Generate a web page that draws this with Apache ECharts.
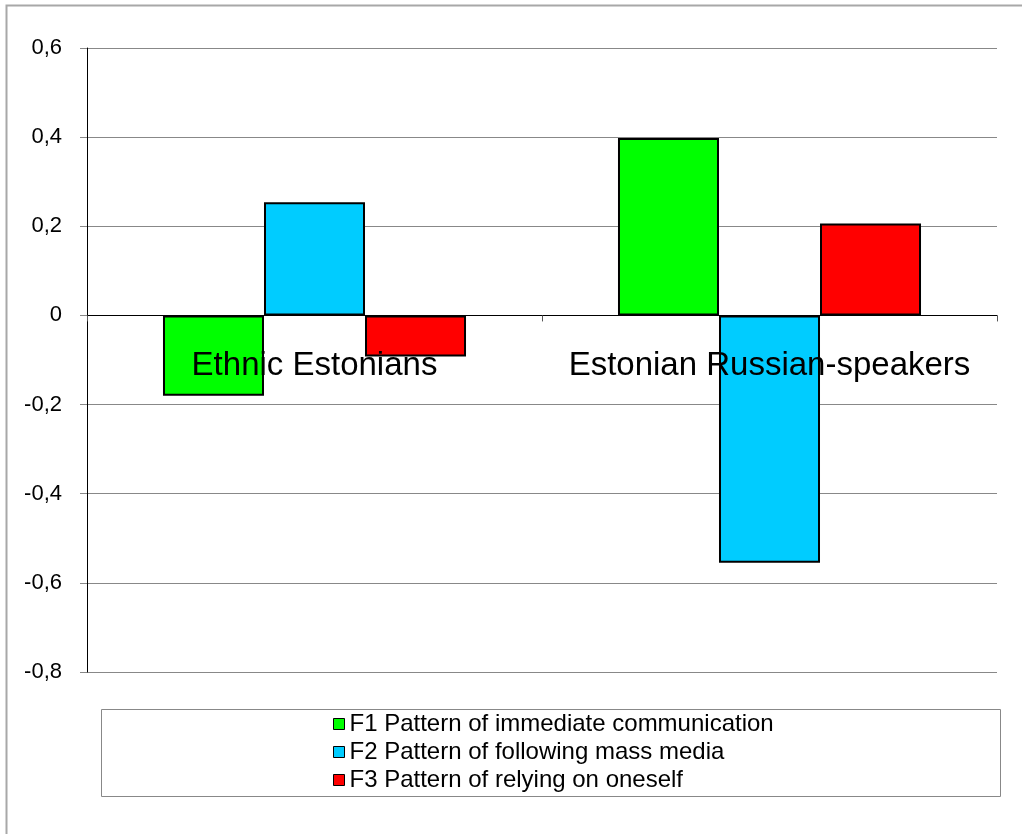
<!DOCTYPE html>
<html>
<head>
<meta charset="utf-8">
<script src="https://cdn.jsdelivr.net/npm/echarts@6/dist/echarts.min.js"></script>
<style>
html,body{margin:0;padding:0;background:#fff;}
#chart{width:1022px;height:834px;}
</style>
</head>
<body>
<div id="chart"></div>
<script>
const categories = ['Ethnic Estonians', 'Estonian Russian-speakers'];
const seriesNames = ['F1 Pattern of immediate communication', 'F2 Pattern of following mass media', 'F3 Pattern of relying on oneself'];
const f1Values = [-0.180, 0.398];
const f2Values = [0.254, -0.555];
const f3Values = [-0.092, 0.206];
const seriesColors = ['#00FF00', '#00CCFF', '#FF0000'];
const yTicks = { min: -0.8, max: 0.6, interval: 0.2 };

const FONT = '"Liberation Sans", Arial, sans-serif';
const chart = echarts.init(document.getElementById('chart'), null, { renderer: 'canvas' });

const GRID_TOP = 48, GRID_BOTTOM = 162, H = 834;
const plotH = H - GRID_TOP - GRID_BOTTOM;
const zeroFromBottom = plotH * (0 - yTicks.min) / (yTicks.max - yTicks.min);

const dataSets = [f1Values, f2Values, f3Values];
const series = dataSets.map((vals, i) => ({
  name: seriesNames[i],
  type: 'bar',
  data: vals,
  xAxisIndex: 0,
  barGap: 0,
  barCategoryGap: '33.4%',
  itemStyle: { color: seriesColors[i], borderColor: '#000', borderWidth: 2 },
  emphasis: { disabled: true },
  animation: false
}));

chart.setOption({
  animation: false,
  backgroundColor: '#fff',
  grid: { left: 87, right: 25, top: GRID_TOP, bottom: GRID_BOTTOM, containLabel: false },
  xAxis: [{
    type: 'category',
    data: categories,
    axisLine: { onZero: true, lineStyle: { color: '#000', width: 1 } },
    axisTick: { show: true, length: 6, lineStyle: { color: '#555' } },
    axisLabel: { show: false },
    splitLine: { show: false }
  }, {
    type: 'category',
    data: categories,
    position: 'bottom',
    offset: -zeroFromBottom,
    z: 10,
    axisLine: { show: false, onZero: false },
    axisTick: { show: false },
    axisLabel: {
      show: true, interval: 0,
      fontFamily: FONT, fontSize: 33, color: '#000', margin: 34, lineHeight: 32
    },
    splitLine: { show: false }
  }],
  yAxis: {
    type: 'value',
    min: yTicks.min, max: yTicks.max, interval: yTicks.interval,
    axisLine: { show: true, lineStyle: { color: '#000', width: 1 } },
    axisTick: { show: true, length: 7, lineStyle: { color: '#888' } },
    axisLabel: {
      fontFamily: FONT, fontSize: 22, color: '#000', margin: 25,
      formatter: v => {
        const r = Math.round(v * 10) / 10;
        return r === 0 ? '0' : r.toFixed(1).replace('.', ',');
      }
    },
    splitLine: { show: true, lineStyle: { color: '#888', width: 1 } }
  },
  legend: {
    orient: 'vertical',
    left: 328,
    top: 707,
    padding: 5,
    itemWidth: 11,
    itemHeight: 11,
    itemGap: 4,
    icon: 'rect',
    selectedMode: false,
    itemStyle: { borderColor: '#000', borderWidth: 1 },
    textStyle: { fontFamily: FONT, fontSize: 24, color: '#000', lineHeight: 24 },
    data: seriesNames
  },
  graphic: [
    { type: 'rect', z: -1, shape: { x: 6.5, y: 5.5, width: 1100, height: 900 },
      style: { fill: 'none', stroke: '#a8a8a8', lineWidth: 2 } },
    { type: 'rect', z: -1, shape: { x: 101.5, y: 709.5, width: 899, height: 87 },
      style: { fill: 'none', stroke: '#888', lineWidth: 1 } }
  ],
  series: series
});
</script>
</body>
</html>
